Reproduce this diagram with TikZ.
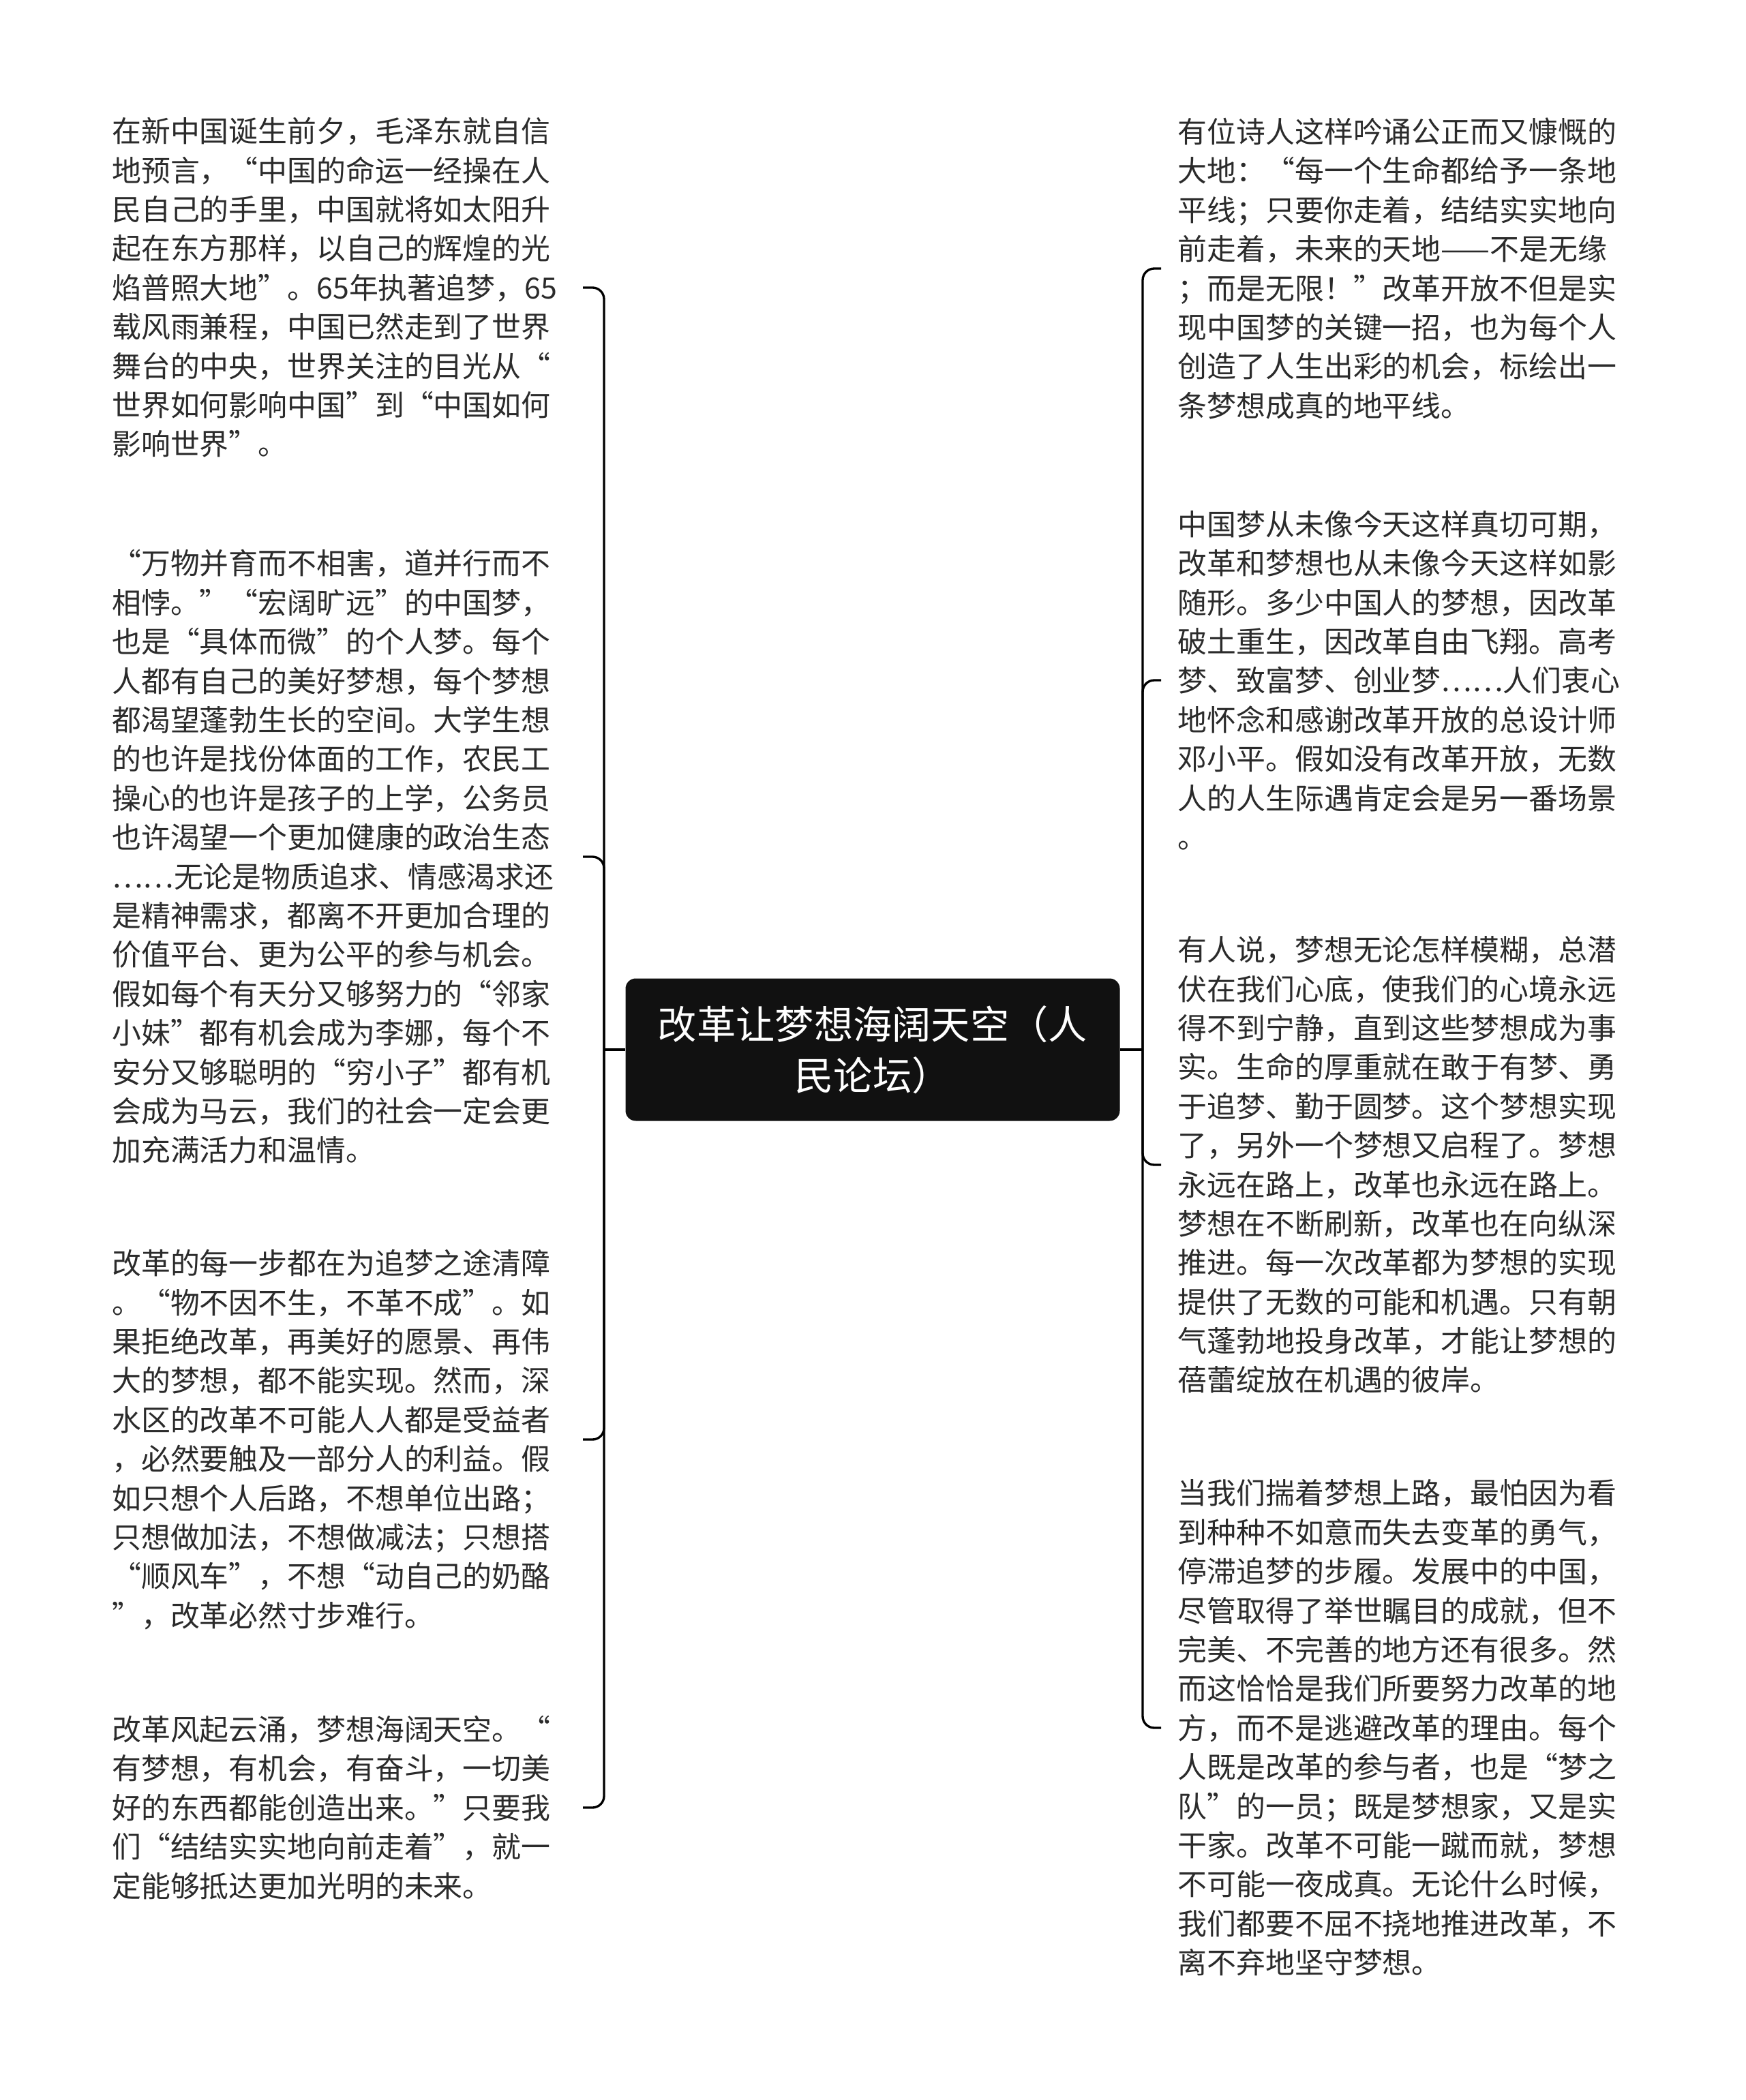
\documentclass[tikz,border=0pt]{standalone}
\usepackage{fontspec}
\setmainfont{Noto Sans CJK SC}
\usepackage{xcolor}
\usepackage{tikz}
\usetikzlibrary{positioning}
\definecolor{rootfill}{HTML}{111111}
\definecolor{leaftext}{HTML}{2B2B2B}

\begin{document}
\begin{tikzpicture}[
      root/.style={fill=rootfill, text=white, rounded corners=0.15cm, minimum width=7.25cm, minimum height=2.09cm, align=center, inner sep=0pt, font=\fontsize{16.3pt}{21.3pt}\selectfont},
      leaf/.style={text width=6.66cm, inner xsep=0.24cm, inner ysep=0pt, align=left, text=leaftext, font=\fontsize{12.2pt}{16.33pt}\selectfont},
      link/.style={line width=0.95pt, rounded corners=0.17cm}
    ]
    \useasboundingbox (0,0) rectangle (25.6,-30.81);
    \node[root] (root) at (12.80,-15.40) {改革让梦想海阔天空（人\\民论坛）};
    \coordinate (ljunc) at (8.86,-15.40);
    \coordinate (rjunc) at (16.76,-15.40);

    \node[leaf, anchor=east] (l1) at (8.55,-4.22) {在新中国诞生前夕，毛泽东就自信\\地预言，“中国的命运一经操在人\\民自己的手里，中国就将如太阳升\\起在东方那样，以自己的辉煌的光\\焰普照大地”。65年执著追梦，65\\载风雨兼程，中国已然走到了世界\\舞台的中央，世界关注的目光从“\\世界如何影响中国”到“中国如何\\影响世界”。};
    \node[leaf, anchor=east] (l2) at (8.55,-12.57) {“万物并育而不相害，道并行而不\\相悖。”“宏阔旷远”的中国梦，\\也是“具体而微”的个人梦。每个\\人都有自己的美好梦想，每个梦想\\都渴望蓬勃生长的空间。大学生想\\的也许是找份体面的工作，农民工\\操心的也许是孩子的上学，公务员\\也许渴望一个更加健康的政治生态\\……无论是物质追求、情感渴求还\\是精神需求，都离不开更加合理的\\价值平台、更为公平的参与机会。\\假如每个有天分又够努力的“邻家\\小妹”都有机会成为李娜，每个不\\安分又够聪明的“穷小子”都有机\\会成为马云，我们的社会一定会更\\加充满活力和温情。};
    \node[leaf, anchor=east] (l3) at (8.55,-21.12) {改革的每一步都在为追梦之途清障\\。“物不因不生，不革不成”。如\\果拒绝改革，再美好的愿景、再伟\\大的梦想，都不能实现。然而，深\\水区的改革不可能人人都是受益者\\，必然要触及一部分人的利益。假\\如只想个人后路，不想单位出路；\\只想做加法，不想做减法；只想搭\\“顺风车”，不想“动自己的奶酪\\”，改革必然寸步难行。};
    \node[leaf, anchor=east] (l4) at (8.55,-26.52) {改革风起云涌，梦想海阔天空。“\\有梦想，有机会，有奋斗，一切美\\好的东西都能创造出来。”只要我\\们“结结实实地向前走着”，就一\\定能够抵达更加光明的未来。};

    \node[leaf, anchor=west] (r1) at (17.03,-3.94) {有位诗人这样吟诵公正而又慷慨的\\大地：“每一个生命都给予一条地\\平线；只要你走着，结结实实地向\\前走着，未来的天地——不是无缘\\；而是无限！”改革开放不但是实\\现中国梦的关键一招，也为每个人\\创造了人生出彩的机会，标绘出一\\条梦想成真的地平线。};
    \node[leaf, anchor=west] (r2) at (17.03,-9.98) {中国梦从未像今天这样真切可期，\\改革和梦想也从未像今天这样如影\\随形。多少中国人的梦想，因改革\\破土重生，因改革自由飞翔。高考\\梦、致富梦、创业梦……人们衷心\\地怀念和感谢改革开放的总设计师\\邓小平。假如没有改革开放，无数\\人的人生际遇肯定会是另一番场景\\。};
    \node[leaf, anchor=west] (r3) at (17.03,-17.09) {有人说，梦想无论怎样模糊，总潜\\伏在我们心底，使我们的心境永远\\得不到宁静，直到这些梦想成为事\\实。生命的厚重就在敢于有梦、勇\\于追梦、勤于圆梦。这个梦想实现\\了，另外一个梦想又启程了。梦想\\永远在路上，改革也永远在路上。\\梦想在不断刷新，改革也在向纵深\\推进。每一次改革都为梦想的实现\\提供了无数的可能和机遇。只有朝\\气蓬勃地投身改革，才能让梦想的\\蓓蕾绽放在机遇的彼岸。};
    \node[leaf, anchor=west] (r4) at (17.03,-25.35) {当我们揣着梦想上路，最怕因为看\\到种种不如意而失去变革的勇气，\\停滞追梦的步履。发展中的中国，\\尽管取得了举世瞩目的成就，但不\\完美、不完善的地方还有很多。然\\而这恰恰是我们所要努力改革的地\\方，而不是逃避改革的理由。每个\\人既是改革的参与者，也是“梦之\\队”的一员；既是梦想家，又是实\\干家。改革不可能一蹴而就，梦想\\不可能一夜成真。无论什么时候，\\我们都要不屈不挠地推进改革，不\\离不弃地坚守梦想。};

    \draw[link] (root.west) -- (ljunc);
    \draw[link] (root.east) -- (rjunc);
    \foreach \n in {l1,l2,l3,l4} \draw[link] (ljunc) |- (\n.east);
    \foreach \n in {r1,r2,r3,r4} \draw[link] (rjunc) |- (\n.west);
\end{tikzpicture}
\end{document}
